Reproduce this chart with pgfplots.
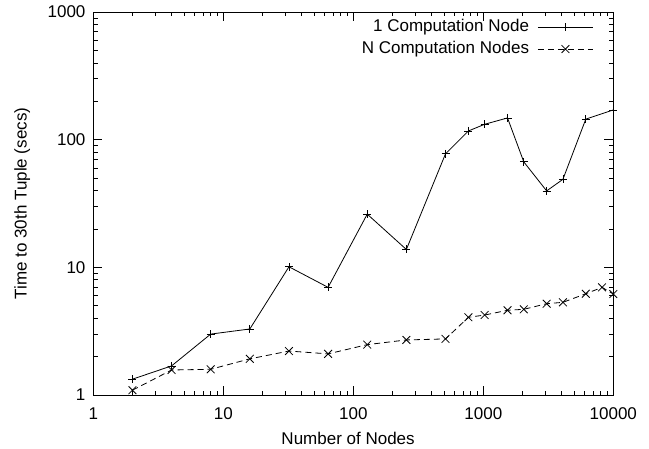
\documentclass[border=0pt]{standalone}
\usepackage{fontspec}
\setmainfont{Liberation Sans}
\usepackage{pgfplots}
\pgfplotsset{compat=1.18}
\begin{document}
\fontsize{17}{20}\selectfont
\begin{tikzpicture}
\path[use as bounding box] (-93.3pt,-53pt) rectangle (555.7pt,395pt);
\begin{axis}[
  at={(0pt,0pt)}, anchor=south west,
  scale only axis, width=520pt, height=383pt,
  xmode=log, ymode=log,
  xmin=1, xmax=10000, ymin=1, ymax=1000,
  log ticks with fixed point,
  /pgf/number format/1000 sep={},
  /pgf/number format/assume math mode=true,
  tick align=inside, tick pos=both,
  major tick length=9pt, minor tick length=4.5pt,
  every tick/.style={black, line width=0.6pt},
  axis line style={line width=0.9pt},
  clip=false,
  xlabel={Number of Nodes},
  ylabel={Time to 30th Tuple (secs)},
  every axis x label/.style={at={(axis description cs:0.49,-0.1123)}, anchor=center},
  every axis y label/.style={at={(axis description cs:-0.1365,0.5)}, anchor=center, rotate=90},
  xticklabel style={yshift=-7pt},
  yticklabel style={xshift=-2pt},
  legend plot pos=right,
  legend cell align=right,
  legend style={draw=none, fill=none, inner sep=0pt, column sep=5pt,
    at={(axis description cs:0.962,0.99)}, anchor=north east,
    nodes={inner sep=3.5pt, text height=11.5pt, text depth=3.5pt}},
  legend image code/.code={\draw[mark repeat=2,mark phase=2,#1] plot coordinates {(0pt,0pt)(27.5pt,0pt)(55pt,0pt)};},
]
\addplot[black, line width=0.8pt, mark=+, mark size=4pt, mark options={solid}] coordinates {
(2,1.33) (4,1.69) (8,3.0) (16,3.29) (32,10.1) (64,6.97) (128,26.1) (256,13.8)
(512,77.5) (768,117) (1024,132) (1536,148) (2048,67) (3072,39.7) (4096,48.9)
(6144,145) (10000,171)
};
\addlegendentry{1 Computation Node}
\addplot[black, line width=0.8pt, dash pattern=on 6pt off 4pt, mark=x, mark size=5.5pt, mark options={solid}] coordinates {
(2,1.09) (4,1.57) (8,1.59) (16,1.92) (32,2.21) (64,2.10) (128,2.48) (256,2.70)
(512,2.75) (768,4.06) (1024,4.23) (1536,4.61) (2048,4.69) (3072,5.19) (4096,5.32)
(6144,6.21) (8192,6.97) (10000,6.18)
};
\addlegendentry{N Computation Nodes}
\end{axis}
\end{tikzpicture}
\end{document}
